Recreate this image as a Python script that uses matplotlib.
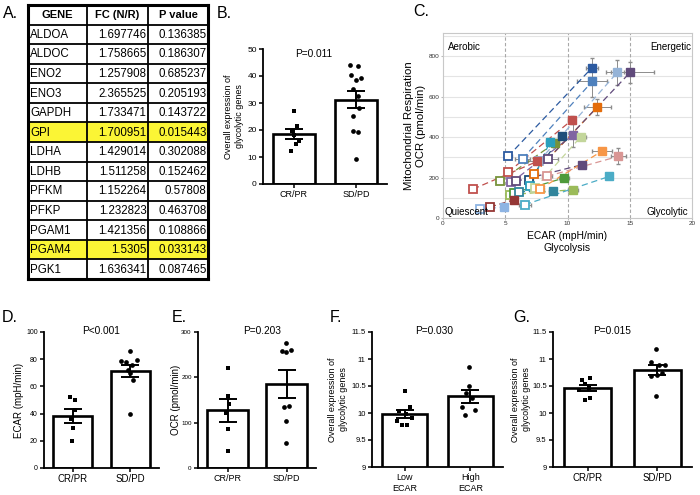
import matplotlib
matplotlib.use('Agg')
import matplotlib.pyplot as plt
import numpy as np
from matplotlib.patches import Rectangle

plt.rcParams['font.family'] = ['Liberation Sans', 'DejaVu Sans']

# ---------------- data ----------------
genes = ['ALDOA', 'ALDOC', 'ENO2', 'ENO3', 'GAPDH', 'GPI', 'LDHA', 'LDHB',
         'PFKM', 'PFKP', 'PGAM1', 'PGAM4', 'PGK1']
fc_vals = [1.697746, 1.758665, 1.257908, 2.365525, 1.733471, 1.700951, 1.429014,
           1.511258, 1.152264, 1.232823, 1.421356, 1.5305, 1.636341]
p_vals = [0.136385, 0.186307, 0.685237, 0.205193, 0.143722, 0.015443, 0.302088,
          0.152462, 0.57808, 0.463708, 0.108866, 0.033143, 0.087465]
table_header = ['GENE', 'FC (N/R)', 'P value']

# B: overall expression of glycolytic genes
b_crpr = [27.2, 21.4, 19.5, 18.3, 15.8, 14.9, 12.1]
b_sdpd = [44.1, 43.6, 40.5, 39.3, 38.6, 35.2, 32.5, 28.1, 25.1, 19.8, 19.3, 9.4]

# C: energy map (baseline open squares -> stressed filled squares)
c_base_x = [2.95, 3.76, 2.42, 4.56, 5.23, 5.23, 5.36, 5.5, 5.69, 5.85, 6.09,
            6.39, 6.58, 6.92, 6.98, 7.3, 7.38, 7.7, 7.78, 8.37, 8.45]
c_base_y = [44, 54, 143, 181, 227, 305, 115, 176, 124, 181, 130,
            293, 66, 186, 156, 218, 148, 280, 143, 206, 293]
c_str_x = [4.89, 5.69, 7.57, 8.99, 10.33, 11.95, 10.41, 10.47, 9.72, 11.2, 8.8,
           12.0, 13.37, 9.53, 8.58, 12.4, 11.06, 14.0, 12.75, 14.09, 15.03]
c_str_y = [54, 90, 280, 371, 483, 742, 140, 412, 198, 264, 132,
           676, 206, 404, 376, 549, 401, 720, 330, 305, 720]
c_str_xerr = [0.2, 0.2, 0.3, 0.3, 0.3, 0.5, 0.4, 0.2, 0.4, 0.3, 0.3,
              1.2, 0.2, 0.3, 0.3, 1.1, 0.4, 0.5, 0.8, 0.6, 1.9]
c_str_yerr = [5, 8, 15, 20, 20, 50, 10, 60, 10, 10, 10,
              80, 15, 10, 10, 40, 10, 60, 15, 40, 50]
c_base_xerr = [0.2, 0.2, 0.2, 0.2, 0.3, 0.3, 0.2, 0.2, 0.2, 0.2, 0.2,
               0.6, 0.5, 0.3, 0.3, 0.3, 0.3, 0.9, 0.3, 0.4, 0.8]
c_quadrants = ['Aerobic', 'Energetic', 'Quiescent', 'Glycolytic']

# D: ECAR
d_crpr = [52.2, 49.8, 42.4, 36.3, 29.4, 19.9]
d_sdpd = [85.9, 79.0, 78.0, 79.5, 75.6, 72.0, 69.5, 65.0, 39.8]
# E: OCR
e_crpr = [220.6, 159.6, 141.0, 121.0, 86.0, 38.0]
e_sdpd = [275.7, 257.0, 255.0, 259.6, 134.6, 137.5, 104.4, 55.0]
# F: by ECAR
f_low = [10.40, 10.11, 10.04, 9.99, 9.90, 9.86, 9.77, 9.77]
f_high = [10.86, 10.50, 10.37, 10.28, 10.11, 10.06, 9.96]
# G: by response
g_crpr = [10.61, 10.64, 10.53, 10.47, 10.43, 10.25, 10.27]
g_sdpd = [11.19, 10.95, 10.89, 10.88, 10.68, 10.70, 10.75, 10.31]

resp_labels = ['CR/PR', 'SD/PD']
ecar_labels = ['Low\nECAR', 'High\nECAR']
p_texts = {'B': 'P=0.011', 'D': 'P<0.001', 'E': 'P=0.203', 'F': 'P=0.030', 'G': 'P=0.015'}

# ---------------- figure ----------------
W, H = 700, 495
fig = plt.figure(figsize=(7, 4.95), dpi=100)


def px_axes(l, t, r, b):
    return fig.add_axes([l / W, 1 - b / H, (r - l) / W, (b - t) / H])


def ftext(x, y, s, **kw):
    fig.text(x / W, 1 - y / H, s, **kw)


# ---- A: table ----
tab = px_axes(28, 5, 208, 279)
tw, th = 180, 274
tab.set_xlim(0, tw)
tab.set_ylim(th, 0)
tab.axis('off')
col_edges = [0, 59, 120, 180]
nrows = len(genes) + 1
rh = th / nrows
for i, p in enumerate(p_vals):
    if p < 0.05:
        tab.add_patch(Rectangle((0, (i + 1) * rh), tw, rh, facecolor='#fbf535',
                                edgecolor='none', zorder=0))
for k in range(nrows + 1):
    lw = 2.2 if k in (0, nrows) else 1.3
    tab.plot([0, tw], [k * rh, k * rh], color='black', lw=lw, clip_on=False,
             solid_capstyle='projecting')
for k, x in enumerate(col_edges):
    lw = 2.2 if k in (0, len(col_edges) - 1) else 1.3
    tab.plot([x, x], [0, th], color='black', lw=lw, clip_on=False,
             solid_capstyle='projecting')
for j, h in enumerate(table_header):
    tab.text((col_edges[j] + col_edges[j + 1]) / 2, rh / 2 + 0.5, h, ha='center',
             va='center', fontsize=8, fontweight='bold')
for i in range(len(genes)):
    yc = (i + 1.5) * rh + 0.5
    tab.text(col_edges[0] + 2, yc, genes[i], ha='left', va='center', fontsize=8.3)
    tab.text(col_edges[2] - 1.5, yc, str(fc_vals[i]), ha='right', va='center', fontsize=8.3)
    tab.text(col_edges[3] - 1.5, yc, str(p_vals[i]), ha='right', va='center', fontsize=8.3)


# ---- bar panels ----
def bar_panel(box, g1, g2, j1, j2, mk, xlabels, ylim, yticks, yticklabels, ylabel,
              label_right_px, ytick_fs, xtick_fs, ylabel_fs):
    l, t, r, b = box
    ax = px_axes(l, t, r, b)
    xlim = (-0.5, 1.5)
    ppu = (r - l) / (xlim[1] - xlim[0])
    for i, (g, jit, m) in enumerate([(g1, j1, mk[0]), (g2, j2, mk[1])]):
        g = np.asarray(g, dtype=float)
        mean = g.mean()
        sem = g.std(ddof=1) / np.sqrt(len(g))
        ax.bar(i, mean, width=0.68, color='white', edgecolor='black', linewidth=1.9,
               zorder=1)
        ax.errorbar(i, mean, yerr=sem, color='black', capsize=6.5, elinewidth=1.4,
                    capthick=1.4, zorder=3)
        ax.plot(i + np.asarray(jit) / ppu, g, m, color='black', ms=3.4, mew=0,
                zorder=4, clip_on=False)
    ax.set_xlim(*xlim)
    ax.set_ylim(*ylim)
    ax.set_yticks(yticks)
    ax.set_yticklabels(yticklabels, fontsize=ytick_fs)
    ax.set_xticks([0, 1])
    ax.set_xticklabels(xlabels, fontsize=xtick_fs, linespacing=1.3)
    for s in ('top', 'right'):
        ax.spines[s].set_visible(False)
    for s in ('left', 'bottom'):
        ax.spines[s].set_linewidth(1.3)
    ax.tick_params(axis='both', direction='out', length=3, width=1.1, pad=1.5)
    ax.set_ylabel(ylabel, fontsize=ylabel_fs, linespacing=1.25)
    ax.yaxis.set_label_coords((label_right_px - l) / (r - l), 0.5)
    return ax


# B
bar_panel((263, 49, 387, 184), b_crpr, b_sdpd,
          [-0.3, 3, -2, -0.3, 4.7, 2, -2.7],
          [-6, 2.3, -5.3, 5.3, -0.3, -2.7, 2, 3, -3, -3, 2.3, -0.3],
          ('s', 'o'), resp_labels, (0, 50), [0, 10, 20, 30, 40, 50],
          ['0', '10', '20', '30', '40', '50'],
          'Overall expression of\nglycolytic genes', 244, 6, 6.5, 6.5)
ftext(314, 54, p_texts['B'], ha='center', va='center', fontsize=7.3)

# D
bar_panel((44, 332, 159, 468), d_crpr, d_sdpd,
          [-2.7, 2.7, 2, -1.7, 0.7, -0.7],
          [0, -9, -4, 6.7, 2, -2.3, -0.7, 2.7, 0],
          ('s', 'o'), resp_labels, (0, 100), [0, 20, 40, 60, 80, 100],
          ['0', '20', '40', '60', '80', '100'],
          'ECAR (mpH/min)', 24, 5, 7, 7)
ftext(101, 331, p_texts['D'], ha='center', va='center', fontsize=7.3)

# E
bar_panel((198, 332, 316, 468), e_crpr, e_sdpd,
          [0, 0, 1.7, -1.7, 0, 0],
          [-0.3, -4.7, -0.3, 4.3, -2.3, 2, -0.3, -0.3],
          ('s', 'o'), resp_labels, (0, 300), [0, 100, 200, 300],
          ['0', '100', '200', '300'],
          'OCR (pmol/min)', 181, 4.5, 6.5, 7)
ftext(262, 331, p_texts['E'], ha='center', va='center', fontsize=7.3)

# F
bar_panel((372, 332, 503, 467), f_low, f_high,
          [0, 5, -5.7, 1, 7.7, -7.7, -2.3, 2.7],
          [-1.3, -1.3, -4.7, 2, -8, 4.3, -5.3],
          ('s', 'o'), ecar_labels, (9, 11.5), [9, 9.5, 10, 10.5, 11, 11.5],
          ['9', '9.5', '10', '10.5', '11', '11.5'],
          'Overall expression of\nglycolytic genes', 348, 5.5, 6.5, 6.5)
ftext(434, 331, p_texts['F'], ha='center', va='center', fontsize=7.3)

# G
bar_panel((553, 332, 692, 467), g_crpr, g_sdpd,
          [-5.7, 2.7, -2.3, 1.7, -8.3, -2.3, 2.7],
          [-1.3, -6.3, 1.3, 7.7, -6.3, -0.7, 4.7, -1.3],
          ('s', 'o'), resp_labels, (9, 11.5), [9, 9.5, 10, 10.5, 11, 11.5],
          ['9', '9.5', '10', '10.5', '11', '11.5'],
          'Overall expression of\nglycolytic genes', 531, 5.5, 7, 6.5)
ftext(612, 331, p_texts['G'], ha='center', va='center', fontsize=7.3)

# ---- C: energy map ----
c_colors = ['#8eb4e3', '#953735', '#c0504d', '#77933c', '#c0504d', '#2c5aa0',
            '#9bbb59', '#8064a2', '#4e9a3a', '#604a7b', '#31859c', '#4f81bd',
            '#4bacc6', '#1f4e79', '#2a9fbc', '#e46c0a', '#c3d69b', '#95b3d7',
            '#f79646', '#d99694', '#604a7b']
axc = px_axes(443, 33, 692, 218)
axc.set_xlim(0, 20)
axc.set_ylim(0, 915)
for yv in range(100, 901, 100):
    axc.axhline(yv, color='#e4e4e4', lw=0.8, zorder=0)
for xv in (5, 10, 15):
    axc.axvline(xv, color='#a8a8a8', lw=0.8, ls=(0, (3, 2)), zorder=0)
for i in range(len(c_base_x)):
    col = c_colors[i]
    axc.plot([c_base_x[i], c_str_x[i]], [c_base_y[i], c_str_y[i]], color=col,
             lw=0.9, ls=(0, (5, 3)), zorder=2)
    axc.errorbar(c_str_x[i], c_str_y[i], xerr=c_str_xerr[i], yerr=c_str_yerr[i],
                 fmt='none', ecolor='#8c8c8c', elinewidth=0.7, capsize=1.5, zorder=1)
    axc.errorbar(c_base_x[i], c_base_y[i], xerr=c_base_xerr[i],
                 fmt='none', ecolor='#8c8c8c', elinewidth=0.7, capsize=1.5, zorder=1)
    axc.plot(c_base_x[i], c_base_y[i], 's', mfc='white', mec=col, mew=1.3, ms=5.5,
             zorder=3)
    axc.plot(c_str_x[i], c_str_y[i], 's', mfc=col, mec=col, mew=1.0, ms=5.5, zorder=4)
axc.set_xticks([0, 5, 10, 15, 20])
axc.set_yticks([0, 200, 400, 600, 800])
axc.tick_params(axis='both', labelsize=4.6, length=1.5, color='#bbbbbb', pad=1,
                labelcolor='#333333')
for s in axc.spines.values():
    s.set_color('#c8c8c8')
    s.set_linewidth(0.8)
axc.text(0.4, 848, c_quadrants[0], ha='left', va='center', fontsize=7)
axc.text(19.95, 848, c_quadrants[1], ha='right', va='center', fontsize=7)
axc.text(0.1, 28, c_quadrants[2], ha='left', va='center', fontsize=7)
axc.text(19.7, 28, c_quadrants[3], ha='right', va='center', fontsize=7)
axc.set_ylabel('Mitochondrial Respiration\nOCR (pmol/min)', fontsize=8.2, linespacing=1.2)
axc.yaxis.set_label_coords((426 - 443) / (692 - 443), 0.5)
axc.set_xlabel('ECAR (mpH/min)\nGlycolysis', fontsize=7.5, linespacing=1.35, labelpad=3)

# ---- panel letters ----
for letter, x, y in [('A.', 3, 13), ('B.', 217, 13), ('C.', 413, 12), ('D.', 2, 318),
                     ('E.', 172, 318), ('F.', 330, 318), ('G.', 513, 318)]:
    ftext(x, y, letter, ha='left', va='center', fontsize=11.5)

fig.savefig('out.png', dpi=100)
